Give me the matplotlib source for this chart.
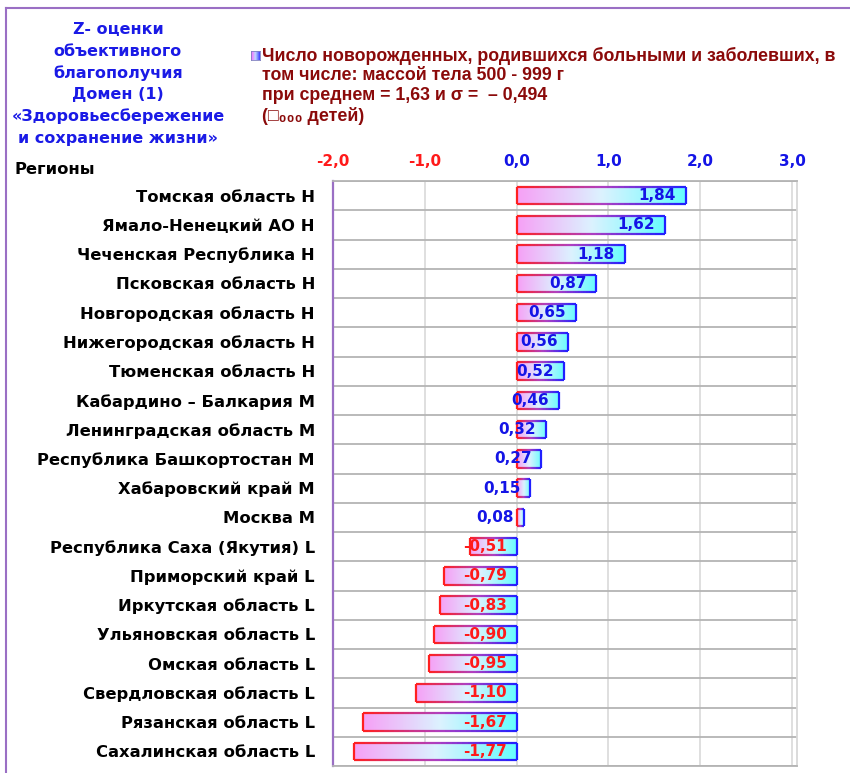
import numpy as np
import matplotlib
matplotlib.use('Agg')
import matplotlib.pyplot as plt
from matplotlib.collections import LineCollection
from matplotlib.patches import Rectangle
from matplotlib.colors import LinearSegmentedColormap

plt.rcParams['font.family'] = ['DejaVu Sans']

regions = ['Томская область Н', 'Ямало-Ненецкий АО Н', 'Чеченская Республика Н',
           'Псковская область Н', 'Новгородская область Н', 'Нижегородская область Н',
           'Тюменская область Н', 'Кабардино – Балкария М', 'Ленинградская область М',
           'Республика Башкортостан М', 'Хабаровский край М', 'Москва М',
           'Республика Саха (Якутия) L', 'Приморский край L', 'Иркутская область L',
           'Ульяновская область L', 'Омская область L', 'Свердловская область L',
           'Рязанская область L', 'Сахалинская область L']
zvals = [1.84, 1.62, 1.18, 0.87, 0.65, 0.56, 0.52, 0.46, 0.32, 0.27, 0.15, 0.08,
         -0.51, -0.79, -0.83, -0.90, -0.95, -1.10, -1.67, -1.77]
xticks = [-2.0, -1.0, 0.0, 1.0, 2.0, 3.0]

title_lines = ['Z- оценки', 'объективного', 'благополучия', 'Домен (1)',
               '«Здоровьесбережение', 'и сохранение жизни»']
legend_lines = ['Число новорожденных, родившихся больными и заболевших, в',
                'том числе: массой тела 500 - 999 г',
                'при среднем = 1,63 и σ =  – 0,494',
                '(□\u2080\u2080\u2080 детей)']

fill_cmap = LinearSegmentedColormap.from_list('f', ['#f6a0f6', '#dcf2ff', '#66fdfd'])
edge_cmap = LinearSegmentedColormap.from_list('e', ['#ff2020', '#b040c0', '#2020ff'])

fig = plt.figure(figsize=(8.5, 7.73), dpi=100)
ax = fig.add_axes([333/850, 1-766/773, 464/850, (766-181)/773])

n = len(regions)
ypos = np.arange(n)
bh = 0.6
grad = np.linspace(0, 1, 256).reshape(1, -1)

def draw_bar(a, x0, x1, yc, h):
    rect = Rectangle((x0, yc - h/2), x1 - x0, h, facecolor='none', edgecolor='none')
    a.add_patch(rect)
    im = a.imshow(grad, cmap=fill_cmap, aspect='auto', extent=(x0, x1, yc + h/2, yc - h/2),
                  interpolation='bilinear', zorder=2)
    im.set_clip_path(rect)
    # outline, red on the left blending to blue on the right
    k = 30
    xs = np.linspace(x0, x1, k + 1)
    segs, cols = [], []
    for i in range(k):
        t = (i + 0.5) / k
        for yy in (yc - h/2, yc + h/2):
            segs.append([(xs[i], yy), (xs[i+1], yy)])
            cols.append(edge_cmap(t))
    segs.append([(x0, yc - h/2), (x0, yc + h/2)])
    cols.append(edge_cmap(0.0))
    segs.append([(x1, yc - h/2), (x1, yc + h/2)])
    cols.append(edge_cmap(1.0))
    a.add_collection(LineCollection(segs, colors=cols, linewidths=1.6, zorder=3))

for i, v in enumerate(zvals):
    draw_bar(ax, min(0, v), max(0, v), ypos[i], bh)
    lab = ('%.2f' % v).replace('.', ',')
    if v >= 0:
        ax.annotate(lab, (v, ypos[i]), xytext=(-10, 0), textcoords='offset pixels',
                    ha='right', va='center', color='#1414e6', fontsize=11,
                    fontweight='bold', zorder=4)
    else:
        ax.annotate(lab, (0, ypos[i]), xytext=(-10, 0), textcoords='offset pixels',
                    ha='right', va='center', color='#ff1a1a', fontsize=11,
                    fontweight='bold', zorder=4)

ax.set_xlim(-2.0, 3.054)
ax.set_ylim(n - 0.5, -0.5)
ax.set_xticks(xticks)
ax.set_xticklabels([('%.1f' % t).replace('.', ',') for t in xticks])
ax.xaxis.tick_top()
ax.tick_params(axis='x', length=0, pad=9, labelsize=11)
for t, lbl in zip(xticks, ax.get_xticklabels()):
    lbl.set_color('#ff1a1a' if t < 0 else '#1414e6')
    lbl.set_fontweight('bold')

ax.set_yticks(ypos)
ax.set_yticklabels(regions, fontsize=11.8, fontweight='bold')
ax.tick_params(axis='y', length=0, pad=13)
ax.set_yticks(np.arange(n + 1) - 0.5, minor=True)
ax.tick_params(axis='y', which='minor', length=0)
ax.grid(axis='y', which='minor', color='#b4b4b4', linewidth=1.3, zorder=0)
ax.grid(axis='x', which='major', color='#dcdcdc', linewidth=1.3, zorder=0)
ax.set_axisbelow(True)
ax.spines['top'].set_color('#b4b4b4')
ax.spines['bottom'].set_color('#b4b4b4')
ax.spines['right'].set_color('#d8d8d8')
for s in ax.spines.values():
    s.set_linewidth(1.3)
ax.spines['left'].set_color('#9a6fc4')
ax.spines['left'].set_linewidth(1.6)

# frame of the slide
fig.add_artist(plt.Line2D([6/850, 6/850], [0, 1-8/773], color='#9a6fc4', lw=1.5))
fig.add_artist(plt.Line2D([6/850, 1], [1-8/773, 1-8/773], color='#9a6fc4', lw=1.5))

for k, line in enumerate(title_lines):
    fig.text(118/850, 1-(30 + k*21.6)/773, line, ha='center', va='center',
             color='#1a1ae6', fontsize=11.5, fontweight='bold')

for k, line in enumerate(legend_lines):
    fig.text(262/850, 1-(56 + k*20)/773, line, ha='left', va='center',
             color='#8b0a0a', fontsize=12.8, fontweight='bold',
             family=['Liberation Sans', 'DejaVu Sans'])

lax = fig.add_axes([251/850, 1-60/773, 9/850, 9/773])
lax.imshow(grad, cmap=LinearSegmentedColormap.from_list('m', ['#ff60ff', '#c0d8ff', '#3a3aff']),
           aspect='auto', extent=(0, 1, 0, 1))
lax.set_xticks([])
lax.set_yticks([])
for s in lax.spines.values():
    s.set_color('#8080c0')
    s.set_linewidth(0.6)

fig.text(14/850, 1-170/773, 'Регионы', ha='left', va='center', color='black',
         fontsize=11.8, fontweight='bold')

fig.savefig('out.png', dpi=100)
